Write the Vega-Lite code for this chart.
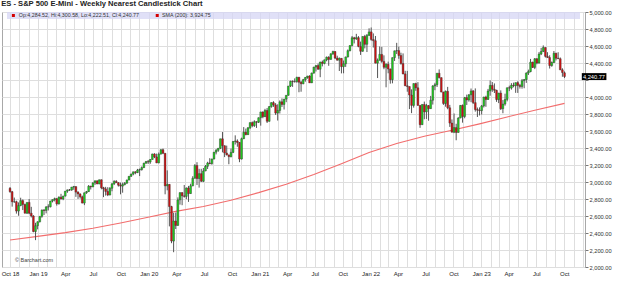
{
"$schema":"https://vega.github.io/schema/vega-lite/v6.json",
"width":583,"height":255,
"autosize":{"type":"none"},
"padding":{"top":12,"left":2,"right":39,"bottom":17},
"background":"white",
"title":{"text":"ES - S&P 500 E-Mini - Weekly Nearest Candlestick Chart","anchor":"start","fontSize":7.6,"fontWeight":"bold","color":"#222","offset":1,"font":"Liberation Sans"},
"config":{"font":"Liberation Sans","view":{"stroke":"#a8a8a8","strokeWidth":1},"axis":{"grid":true,"gridColor":"#dedede","gridWidth":1,"gridOpacity":1,"domain":false,"labelColor":"#333","tickColor":"#777"}},
"datasets":{
"sma":[
{"d":"2018-10-01","v":2318},{"d":"2018-12-31","v":2360},{"d":"2019-04-01","v":2404},{"d":"2019-07-01","v":2456},{"d":"2019-09-30","v":2518},{"d":"2019-12-30","v":2586},{"d":"2020-03-30","v":2654},{"d":"2020-06-29","v":2711},{"d":"2020-09-28","v":2785},{"d":"2020-12-28","v":2875},{"d":"2021-03-29","v":2974},{"d":"2021-06-28","v":3089},{"d":"2021-09-27","v":3216},{"d":"2021-12-27","v":3346},{"d":"2022-03-28","v":3453},{"d":"2022-06-27","v":3538},{"d":"2022-09-26","v":3609},{"d":"2022-12-26","v":3684},{"d":"2023-03-27","v":3765},{"d":"2023-06-26","v":3845},{"d":"2023-10-02","v":3925}
],
"ohlc":[
{"d":"2018-10-01","o":2926,"h":2940,"l":2874,"c":2886},
{"d":"2018-10-08","o":2886,"h":2895,"l":2710,"c":2767},
{"d":"2018-10-15","o":2767,"h":2817,"l":2755,"c":2768},
{"d":"2018-10-22","o":2768,"h":2780,"l":2628,"c":2658},
{"d":"2018-10-29","o":2658,"h":2760,"l":2603,"c":2723},
{"d":"2018-11-05","o":2723,"h":2815,"l":2715,"c":2781},
{"d":"2018-11-12","o":2781,"h":2795,"l":2670,"c":2736},
{"d":"2018-11-19","o":2736,"h":2745,"l":2631,"c":2633},
{"d":"2018-11-26","o":2633,"h":2760,"l":2625,"c":2760},
{"d":"2018-12-03","o":2760,"h":2800,"l":2621,"c":2633},
{"d":"2018-12-10","o":2633,"h":2708,"l":2583,"c":2600},
{"d":"2018-12-17","o":2600,"h":2610,"l":2409,"c":2417},
{"d":"2018-12-24","o":2417,"h":2520,"l":2316,"c":2486},
{"d":"2018-12-31","o":2486,"h":2538,"l":2443,"c":2532},
{"d":"2019-01-07","o":2532,"h":2597,"l":2524,"c":2596},
{"d":"2019-01-14","o":2596,"h":2675,"l":2580,"c":2671},
{"d":"2019-01-21","o":2671,"h":2680,"l":2612,"c":2665},
{"d":"2019-01-28","o":2665,"h":2716,"l":2631,"c":2707},
{"d":"2019-02-04","o":2707,"h":2738,"l":2665,"c":2708},
{"d":"2019-02-11","o":2708,"h":2778,"l":2701,"c":2776},
{"d":"2019-02-18","o":2776,"h":2794,"l":2760,"c":2793},
{"d":"2019-02-25","o":2793,"h":2816,"l":2772,"c":2804},
{"d":"2019-03-04","o":2804,"h":2810,"l":2722,"c":2743},
{"d":"2019-03-11","o":2743,"h":2831,"l":2735,"c":2822},
{"d":"2019-03-18","o":2822,"h":2861,"l":2796,"c":2800},
{"d":"2019-03-25","o":2800,"h":2838,"l":2786,"c":2834},
{"d":"2019-04-01","o":2834,"h":2894,"l":2830,"c":2893},
{"d":"2019-04-08","o":2893,"h":2911,"l":2873,"c":2907},
{"d":"2019-04-15","o":2907,"h":2918,"l":2896,"c":2905},
{"d":"2019-04-22","o":2905,"h":2942,"l":2897,"c":2940},
{"d":"2019-04-29","o":2940,"h":2954,"l":2908,"c":2946},
{"d":"2019-05-06","o":2946,"h":2950,"l":2825,"c":2881},
{"d":"2019-05-13","o":2881,"h":2891,"l":2801,"c":2860},
{"d":"2019-05-20","o":2860,"h":2865,"l":2805,"c":2826},
{"d":"2019-05-27","o":2826,"h":2840,"l":2750,"c":2752},
{"d":"2019-06-03","o":2752,"h":2876,"l":2728,"c":2873},
{"d":"2019-06-10","o":2873,"h":2895,"l":2861,"c":2887},
{"d":"2019-06-17","o":2887,"h":2964,"l":2883,"c":2950},
{"d":"2019-06-24","o":2950,"h":2956,"l":2912,"c":2942},
{"d":"2019-07-01","o":2942,"h":2996,"l":2940,"c":2990},
{"d":"2019-07-08","o":2990,"h":3016,"l":2966,"c":3014},
{"d":"2019-07-15","o":3014,"h":3018,"l":2975,"c":2977},
{"d":"2019-07-22","o":2977,"h":3028,"l":2974,"c":3026},
{"d":"2019-07-29","o":3026,"h":3030,"l":2914,"c":2932},
{"d":"2019-08-05","o":2932,"h":2943,"l":2822,"c":2919},
{"d":"2019-08-12","o":2919,"h":2943,"l":2840,"c":2889},
{"d":"2019-08-19","o":2889,"h":2939,"l":2834,"c":2847},
{"d":"2019-08-26","o":2847,"h":2940,"l":2843,"c":2926},
{"d":"2019-09-02","o":2926,"h":2985,"l":2891,"c":2979},
{"d":"2019-09-09","o":2979,"h":3021,"l":2964,"c":3007},
{"d":"2019-09-16","o":3007,"h":3022,"l":2990,"c":2992},
{"d":"2019-09-23","o":2992,"h":2999,"l":2946,"c":2962},
{"d":"2019-09-30","o":2962,"h":2993,"l":2855,"c":2952},
{"d":"2019-10-07","o":2952,"h":2993,"l":2874,"c":2970},
{"d":"2019-10-14","o":2970,"h":3000,"l":2960,"c":2986},
{"d":"2019-10-21","o":2986,"h":3028,"l":2980,"c":3023},
{"d":"2019-10-28","o":3023,"h":3068,"l":3020,"c":3067},
{"d":"2019-11-04","o":3067,"h":3098,"l":3060,"c":3093},
{"d":"2019-11-11","o":3093,"h":3122,"l":3079,"c":3120},
{"d":"2019-11-18","o":3120,"h":3127,"l":3091,"c":3110},
{"d":"2019-11-25","o":3110,"h":3154,"l":3105,"c":3141},
{"d":"2019-12-02","o":3141,"h":3158,"l":3070,"c":3146},
{"d":"2019-12-09","o":3146,"h":3183,"l":3134,"c":3169},
{"d":"2019-12-16","o":3169,"h":3226,"l":3166,"c":3221},
{"d":"2019-12-23","o":3221,"h":3248,"l":3215,"c":3240},
{"d":"2019-12-30","o":3240,"h":3259,"l":3212,"c":3235},
{"d":"2020-01-06","o":3235,"h":3268,"l":3214,"c":3265},
{"d":"2020-01-13","o":3265,"h":3332,"l":3263,"c":3330},
{"d":"2020-01-20","o":3330,"h":3338,"l":3281,"c":3295},
{"d":"2020-01-27","o":3295,"h":3334,"l":3222,"c":3225},
{"d":"2020-02-03","o":3225,"h":3347,"l":3220,"c":3328},
{"d":"2020-02-10","o":3328,"h":3385,"l":3325,"c":3380},
{"d":"2020-02-17","o":3380,"h":3393,"l":3328,"c":3338},
{"d":"2020-02-24","o":3338,"h":3340,"l":2855,"c":2954},
{"d":"2020-03-02","o":2954,"h":3137,"l":2902,"c":2972},
{"d":"2020-03-09","o":2972,"h":2975,"l":2478,"c":2711},
{"d":"2020-03-16","o":2711,"h":2720,"l":2280,"c":2305},
{"d":"2020-03-23","o":2305,"h":2637,"l":2174,"c":2541},
{"d":"2020-03-30","o":2541,"h":2641,"l":2447,"c":2489},
{"d":"2020-04-06","o":2489,"h":2819,"l":2485,"c":2790},
{"d":"2020-04-13","o":2790,"h":2880,"l":2734,"c":2875},
{"d":"2020-04-20","o":2875,"h":2880,"l":2727,"c":2837},
{"d":"2020-04-27","o":2837,"h":2965,"l":2816,"c":2831},
{"d":"2020-05-04","o":2831,"h":2935,"l":2798,"c":2930},
{"d":"2020-05-11","o":2930,"h":2954,"l":2766,"c":2864},
{"d":"2020-05-18","o":2864,"h":2980,"l":2860,"c":2955},
{"d":"2020-05-25","o":2955,"h":3068,"l":2950,"c":3044},
{"d":"2020-06-01","o":3044,"h":3211,"l":3040,"c":3194},
{"d":"2020-06-08","o":3194,"h":3233,"l":2965,"c":3041},
{"d":"2020-06-15","o":3041,"h":3155,"l":2934,"c":3098},
{"d":"2020-06-22","o":3098,"h":3155,"l":3000,"c":3009},
{"d":"2020-06-29","o":3009,"h":3165,"l":2999,"c":3130},
{"d":"2020-07-06","o":3130,"h":3200,"l":3127,"c":3185},
{"d":"2020-07-13","o":3185,"h":3238,"l":3153,"c":3224},
{"d":"2020-07-20","o":3224,"h":3280,"l":3209,"c":3216},
{"d":"2020-07-27","o":3216,"h":3273,"l":3204,"c":3271},
{"d":"2020-08-03","o":3271,"h":3352,"l":3265,"c":3351},
{"d":"2020-08-10","o":3351,"h":3387,"l":3325,"c":3373},
{"d":"2020-08-17","o":3373,"h":3399,"l":3355,"c":3397},
{"d":"2020-08-24","o":3397,"h":3509,"l":3387,"c":3508},
{"d":"2020-08-31","o":3508,"h":3588,"l":3349,"c":3427},
{"d":"2020-09-07","o":3427,"h":3430,"l":3293,"c":3341},
{"d":"2020-09-14","o":3341,"h":3428,"l":3313,"c":3319},
{"d":"2020-09-21","o":3319,"h":3320,"l":3209,"c":3298},
{"d":"2020-09-28","o":3298,"h":3393,"l":3290,"c":3348},
{"d":"2020-10-05","o":3348,"h":3482,"l":3340,"c":3477},
{"d":"2020-10-12","o":3477,"h":3549,"l":3441,"c":3483},
{"d":"2020-10-19","o":3483,"h":3502,"l":3415,"c":3465},
{"d":"2020-10-26","o":3465,"h":3470,"l":3233,"c":3270},
{"d":"2020-11-02","o":3270,"h":3522,"l":3265,"c":3509},
{"d":"2020-11-09","o":3509,"h":3646,"l":3505,"c":3585},
{"d":"2020-11-16","o":3585,"h":3628,"l":3550,"c":3557},
{"d":"2020-11-23","o":3557,"h":3645,"l":3555,"c":3638},
{"d":"2020-11-30","o":3638,"h":3700,"l":3622,"c":3699},
{"d":"2020-12-07","o":3699,"h":3712,"l":3644,"c":3663},
{"d":"2020-12-14","o":3663,"h":3726,"l":3648,"c":3709},
{"d":"2020-12-21","o":3709,"h":3715,"l":3636,"c":3703},
{"d":"2020-12-28","o":3703,"h":3760,"l":3694,"c":3756},
{"d":"2021-01-04","o":3756,"h":3826,"l":3663,"c":3824},
{"d":"2021-01-11","o":3824,"h":3830,"l":3750,"c":3768},
{"d":"2021-01-18","o":3768,"h":3861,"l":3765,"c":3841},
{"d":"2021-01-25","o":3841,"h":3870,"l":3694,"c":3714},
{"d":"2021-02-01","o":3714,"h":3894,"l":3710,"c":3887},
{"d":"2021-02-08","o":3887,"h":3937,"l":3874,"c":3934},
{"d":"2021-02-15","o":3934,"h":3950,"l":3884,"c":3907},
{"d":"2021-02-22","o":3907,"h":3928,"l":3789,"c":3811},
{"d":"2021-03-01","o":3811,"h":3914,"l":3723,"c":3842},
{"d":"2021-03-08","o":3842,"h":3960,"l":3806,"c":3943},
{"d":"2021-03-15","o":3943,"h":3983,"l":3883,"c":3913},
{"d":"2021-03-22","o":3913,"h":3978,"l":3853,"c":3975},
{"d":"2021-03-29","o":3975,"h":4021,"l":3939,"c":4020},
{"d":"2021-04-05","o":4020,"h":4130,"l":4015,"c":4129},
{"d":"2021-04-12","o":4129,"h":4192,"l":4117,"c":4185},
{"d":"2021-04-19","o":4185,"h":4195,"l":4119,"c":4180},
{"d":"2021-04-26","o":4180,"h":4219,"l":4170,"c":4181},
{"d":"2021-05-03","o":4181,"h":4238,"l":4168,"c":4232},
{"d":"2021-05-10","o":4232,"h":4236,"l":4056,"c":4174},
{"d":"2021-05-17","o":4174,"h":4188,"l":4062,"c":4156},
{"d":"2021-05-24","o":4156,"h":4213,"l":4150,"c":4204},
{"d":"2021-05-31","o":4204,"h":4235,"l":4180,"c":4230},
{"d":"2021-06-07","o":4230,"h":4249,"l":4215,"c":4247},
{"d":"2021-06-14","o":4247,"h":4256,"l":4165,"c":4166},
{"d":"2021-06-21","o":4166,"h":4287,"l":4165,"c":4281},
{"d":"2021-06-28","o":4281,"h":4355,"l":4275,"c":4352},
{"d":"2021-07-05","o":4352,"h":4372,"l":4300,"c":4370},
{"d":"2021-07-12","o":4370,"h":4393,"l":4321,"c":4327},
{"d":"2021-07-19","o":4327,"h":4415,"l":4233,"c":4411},
{"d":"2021-07-26","o":4411,"h":4429,"l":4360,"c":4395},
{"d":"2021-08-02","o":4395,"h":4440,"l":4385,"c":4437},
{"d":"2021-08-09","o":4437,"h":4476,"l":4420,"c":4468},
{"d":"2021-08-16","o":4468,"h":4480,"l":4367,"c":4442},
{"d":"2021-08-23","o":4442,"h":4513,"l":4440,"c":4509},
{"d":"2021-08-30","o":4509,"h":4545,"l":4495,"c":4535},
{"d":"2021-09-06","o":4535,"h":4540,"l":4447,"c":4458},
{"d":"2021-09-13","o":4458,"h":4486,"l":4428,"c":4433},
{"d":"2021-09-20","o":4433,"h":4465,"l":4306,"c":4455},
{"d":"2021-09-27","o":4455,"h":4457,"l":4278,"c":4357},
{"d":"2021-10-04","o":4357,"h":4429,"l":4279,"c":4391},
{"d":"2021-10-11","o":4391,"h":4475,"l":4354,"c":4471},
{"d":"2021-10-18","o":4471,"h":4559,"l":4465,"c":4545},
{"d":"2021-10-25","o":4545,"h":4608,"l":4537,"c":4605},
{"d":"2021-11-01","o":4605,"h":4718,"l":4595,"c":4697},
{"d":"2021-11-08","o":4697,"h":4708,"l":4630,"c":4683},
{"d":"2021-11-15","o":4683,"h":4743,"l":4672,"c":4698},
{"d":"2021-11-22","o":4698,"h":4717,"l":4585,"c":4595},
{"d":"2021-11-29","o":4595,"h":4652,"l":4495,"c":4538},
{"d":"2021-12-06","o":4538,"h":4713,"l":4532,"c":4712},
{"d":"2021-12-13","o":4712,"h":4731,"l":4572,"c":4620},
{"d":"2021-12-20","o":4620,"h":4741,"l":4529,"c":4725},
{"d":"2021-12-27","o":4725,"h":4808,"l":4720,"c":4766},
{"d":"2022-01-03","o":4766,"h":4818,"l":4662,"c":4677},
{"d":"2022-01-10","o":4677,"h":4748,"l":4582,"c":4662},
{"d":"2022-01-17","o":4662,"h":4718,"l":4396,"c":4398},
{"d":"2022-01-24","o":4398,"h":4453,"l":4223,"c":4432},
{"d":"2022-01-31","o":4432,"h":4595,"l":4430,"c":4501},
{"d":"2022-02-07","o":4501,"h":4589,"l":4402,"c":4419},
{"d":"2022-02-14","o":4419,"h":4490,"l":4327,"c":4349},
{"d":"2022-02-21","o":4349,"h":4396,"l":4114,"c":4385},
{"d":"2022-02-28","o":4385,"h":4416,"l":4279,"c":4329},
{"d":"2022-03-07","o":4329,"h":4335,"l":4157,"c":4204},
{"d":"2022-03-14","o":4204,"h":4465,"l":4161,"c":4463},
{"d":"2022-03-21","o":4463,"h":4546,"l":4424,"c":4543},
{"d":"2022-03-28","o":4543,"h":4637,"l":4506,"c":4546},
{"d":"2022-04-04","o":4546,"h":4593,"l":4450,"c":4488},
{"d":"2022-04-11","o":4488,"h":4521,"l":4381,"c":4393},
{"d":"2022-04-18","o":4393,"h":4513,"l":4267,"c":4272},
{"d":"2022-04-25","o":4272,"h":4308,"l":4128,"c":4132},
{"d":"2022-05-02","o":4132,"h":4307,"l":4062,"c":4123},
{"d":"2022-05-09","o":4123,"h":4124,"l":3858,"c":4023},
{"d":"2022-05-16","o":4023,"h":4090,"l":3810,"c":3901},
{"d":"2022-05-23","o":3901,"h":4160,"l":3875,"c":4158},
{"d":"2022-05-30","o":4158,"h":4168,"l":4073,"c":4108},
{"d":"2022-06-06","o":4108,"h":4175,"l":3900,"c":3901},
{"d":"2022-06-13","o":3901,"h":3905,"l":3637,"c":3675},
{"d":"2022-06-20","o":3675,"h":3914,"l":3670,"c":3912},
{"d":"2022-06-27","o":3912,"h":3946,"l":3738,"c":3825},
{"d":"2022-07-04","o":3825,"h":3919,"l":3742,"c":3899},
{"d":"2022-07-11","o":3899,"h":3905,"l":3721,"c":3863},
{"d":"2022-07-18","o":3863,"h":4013,"l":3860,"c":3962},
{"d":"2022-07-25","o":3962,"h":4140,"l":3911,"c":4130},
{"d":"2022-08-01","o":4130,"h":4167,"l":4080,"c":4145},
{"d":"2022-08-08","o":4145,"h":4281,"l":4118,"c":4280},
{"d":"2022-08-15","o":4280,"h":4325,"l":4218,"c":4228},
{"d":"2022-08-22","o":4228,"h":4230,"l":4057,"c":4058},
{"d":"2022-08-29","o":4058,"h":4062,"l":3907,"c":3924},
{"d":"2022-09-05","o":3924,"h":4076,"l":3886,"c":4067},
{"d":"2022-09-12","o":4067,"h":4119,"l":3856,"c":3873},
{"d":"2022-09-19","o":3873,"h":3907,"l":3648,"c":3693},
{"d":"2022-09-26","o":3693,"h":3736,"l":3584,"c":3586},
{"d":"2022-10-03","o":3586,"h":3806,"l":3575,"c":3640},
{"d":"2022-10-10","o":3640,"h":3685,"l":3491,"c":3583},
{"d":"2022-10-17","o":3583,"h":3762,"l":3580,"c":3753},
{"d":"2022-10-24","o":3753,"h":3905,"l":3750,"c":3901},
{"d":"2022-10-31","o":3901,"h":3912,"l":3698,"c":3771},
{"d":"2022-11-07","o":3771,"h":4001,"l":3750,"c":3993},
{"d":"2022-11-14","o":3993,"h":4028,"l":3906,"c":3965},
{"d":"2022-11-21","o":3965,"h":4034,"l":3945,"c":4026},
{"d":"2022-11-28","o":4026,"h":4100,"l":3939,"c":4072},
{"d":"2022-12-05","o":4072,"h":4080,"l":3918,"c":3934},
{"d":"2022-12-12","o":3934,"h":4101,"l":3828,"c":3852},
{"d":"2022-12-19","o":3852,"h":3876,"l":3765,"c":3845},
{"d":"2022-12-26","o":3845,"h":3878,"l":3783,"c":3840},
{"d":"2023-01-02","o":3840,"h":3906,"l":3794,"c":3895},
{"d":"2023-01-09","o":3895,"h":4003,"l":3877,"c":3999},
{"d":"2023-01-16","o":3999,"h":4015,"l":3885,"c":3972},
{"d":"2023-01-23","o":3972,"h":4095,"l":3965,"c":4071},
{"d":"2023-01-30","o":4071,"h":4195,"l":4015,"c":4136},
{"d":"2023-02-06","o":4136,"h":4176,"l":4061,"c":4090},
{"d":"2023-02-13","o":4090,"h":4160,"l":4047,"c":4079},
{"d":"2023-02-20","o":4079,"h":4085,"l":3943,"c":3970},
{"d":"2023-02-27","o":3970,"h":4049,"l":3928,"c":4046},
{"d":"2023-03-06","o":4046,"h":4078,"l":3847,"c":3862},
{"d":"2023-03-13","o":3862,"h":3964,"l":3809,"c":3917},
{"d":"2023-03-20","o":3917,"h":4039,"l":3898,"c":3971},
{"d":"2023-03-27","o":3971,"h":4110,"l":3949,"c":4109},
{"d":"2023-04-03","o":4109,"h":4133,"l":4069,"c":4105},
{"d":"2023-04-10","o":4105,"h":4163,"l":4087,"c":4138},
{"d":"2023-04-17","o":4138,"h":4169,"l":4114,"c":4133},
{"d":"2023-04-24","o":4133,"h":4170,"l":4049,"c":4169},
{"d":"2023-05-01","o":4169,"h":4186,"l":4048,"c":4136},
{"d":"2023-05-08","o":4136,"h":4154,"l":4099,"c":4124},
{"d":"2023-05-15","o":4124,"h":4212,"l":4098,"c":4192},
{"d":"2023-05-22","o":4192,"h":4212,"l":4103,"c":4205},
{"d":"2023-05-29","o":4205,"h":4290,"l":4166,"c":4282},
{"d":"2023-06-05","o":4282,"h":4322,"l":4259,"c":4299},
{"d":"2023-06-12","o":4299,"h":4448,"l":4291,"c":4410},
{"d":"2023-06-19","o":4410,"h":4415,"l":4341,"c":4348},
{"d":"2023-06-26","o":4348,"h":4458,"l":4328,"c":4450},
{"d":"2023-07-03","o":4450,"h":4456,"l":4385,"c":4399},
{"d":"2023-07-10","o":4399,"h":4528,"l":4394,"c":4505},
{"d":"2023-07-17","o":4505,"h":4578,"l":4493,"c":4536},
{"d":"2023-07-24","o":4536,"h":4607,"l":4528,"c":4582},
{"d":"2023-07-31","o":4582,"h":4584,"l":4464,"c":4478},
{"d":"2023-08-07","o":4478,"h":4527,"l":4460,"c":4464},
{"d":"2023-08-14","o":4464,"h":4491,"l":4335,"c":4370},
{"d":"2023-08-21","o":4370,"h":4418,"l":4356,"c":4406},
{"d":"2023-08-28","o":4406,"h":4541,"l":4400,"c":4515},
{"d":"2023-09-04","o":4515,"h":4520,"l":4430,"c":4457},
{"d":"2023-09-11","o":4457,"h":4527,"l":4448,"c":4450},
{"d":"2023-09-18","o":4450,"h":4465,"l":4316,"c":4320},
{"d":"2023-09-25","o":4320,"h":4338,"l":4238,"c":4288},
{"d":"2023-10-02","o":4284.52,"h":4300.58,"l":4222.51,"c":4240.77}
]},
"layer":[
{"data":{"values":[{}]},"mark":{"type":"rect","fill":"#d6d6f4","opacity":0.75},
 "encoding":{
  "x":{"datum":{"year":2018,"month":9,"date":21},"type":"temporal","scale":{"domain":[{"year":2018,"month":9,"date":21},{"year":2023,"month":11,"date":22}]},"title":null},
  "x2":{"datum":{"year":2023,"month":11,"date":22}},
  "y":{"datum":4918,"type":"quantitative","scale":{"domain":[2000,5000],"nice":false,"zero":false},"title":null},
  "y2":{"datum":5000}}},
{"data":{"name":"sma"},"mark":{"type":"line","color":"#f26d6d","strokeWidth":1.1},
 "encoding":{
  "x":{"field":"d","type":"temporal","scale":{"domain":[{"year":2018,"month":9,"date":21},{"year":2023,"month":11,"date":22}]},"title":null},
  "y":{"field":"v","type":"quantitative","scale":{"domain":[2000,5000],"nice":false,"zero":false},"title":null}}},
{"data":{"name":"ohlc"},"mark":{"type":"rule","color":"#555","strokeWidth":1},
 "encoding":{
  "x":{"field":"d","type":"temporal","scale":{"domain":[{"year":2018,"month":9,"date":21},{"year":2023,"month":11,"date":22}]},"title":null,
   "axis":{"grid":true,"tickCount":{"interval":"month","step":1},"labelExpr":"month(datum.value)%3!=0 ? '' : ((month(datum.value)==0 || year(datum.value)==2018) ? timeFormat(datum.value,'%b %y') : timeFormat(datum.value,'%b'))","labelFlush":false,"labelOverlap":false,"tickSize":0,"labelPadding":3,"labelFontSize":6,"labelColor":"#222","title":null}},
  "y":{"field":"l","type":"quantitative","scale":{"domain":[2000,5000],"nice":false,"zero":false},"title":null,
   "axis":{"grid":true,"orient":"right","tickCount":20,"values":[2000,2200,2400,2600,2800,3000,3200,3400,3600,3800,4000,4200,4400,4600,4800,5000],"format":",.2f","labelExpr":"datum.value==4200 ? '' : datum.label","labelOverlap":false,"labelFontSize":5.7,"tickSize":3,"labelPadding":1,"labelFlush":false,"labelColor":"#333","title":null}},
  "y2":{"field":"h"}}},
{"data":{"name":"ohlc"},"mark":{"type":"bar","width":1.8,"stroke":"#333","strokeWidth":0.4},
 "encoding":{
  "x":{"field":"d","type":"temporal","scale":{"domain":[{"year":2018,"month":9,"date":21},{"year":2023,"month":11,"date":22}]},"title":null},
  "y":{"field":"o","type":"quantitative","scale":{"domain":[2000,5000],"nice":false,"zero":false},"title":null},
  "y2":{"field":"c"},
  "fill":{"condition":{"test":"datum.c >= datum.o","value":"#1ed21e"},"value":"#d41010"}}},
{"data":{"values":[{}]},"mark":{"type":"point","shape":"square","filled":true,"size":9,"color":"#d40000","opacity":1},
 "encoding":{
  "x":{"datum":{"year":2018,"month":10,"date":12},"type":"temporal"},
  "y":{"datum":4959,"type":"quantitative"}}},
{"data":{"values":[{}]},"mark":{"type":"point","shape":"square","filled":true,"size":9,"color":"#d40000","opacity":1},
 "encoding":{
  "x":{"datum":{"year":2020,"month":1,"date":29},"type":"temporal"},
  "y":{"datum":4959,"type":"quantitative"}}},
{"data":{"values":[{}]},"mark":{"type":"text","align":"left","baseline":"middle","fontSize":5.3,"color":"#333"},
 "encoding":{
  "x":{"datum":{"year":2018,"month":10,"date":30},"type":"temporal"},
  "y":{"datum":4959,"type":"quantitative"},
  "text":{"value":"Op:4,284.52, Hi:4,300.58, Lo:4,222.51, Cl:4,240.77"}}},
{"data":{"values":[{}]},"mark":{"type":"text","align":"left","baseline":"middle","fontSize":5.3,"color":"#333"},
 "encoding":{
  "x":{"datum":{"year":2020,"month":2,"date":14},"type":"temporal"},
  "y":{"datum":4959,"type":"quantitative"},
  "text":{"value":"SMA (200): 3,924.75"}}},
{"data":{"values":[{}]},"mark":{"type":"text","align":"left","baseline":"middle","fontSize":5.5,"color":"#444"},
 "encoding":{
  "x":{"datum":{"year":2018,"month":10,"date":17},"type":"temporal"},
  "y":{"datum":2082,"type":"quantitative"},
  "text":{"value":"© Barchart.com"}}},
{"data":{"values":[{}]},"mark":{"type":"rect","fill":"#000"},
 "encoding":{
  "x":{"datum":{"year":2023,"month":11,"date":28},"type":"temporal"},
  "x2":{"datum":{"year":2024,"month":2,"date":17}},
  "y":{"datum":4199,"type":"quantitative"},
  "y2":{"datum":4281}}},
{"data":{"values":[{}]},"mark":{"type":"text","align":"center","baseline":"middle","fontSize":5.7,"color":"#fff"},
 "encoding":{
  "x":{"datum":{"year":2024,"month":1,"date":7},"type":"temporal"},
  "y":{"datum":4240,"type":"quantitative"},
  "text":{"value":"4,240.77"}}}
]
}
